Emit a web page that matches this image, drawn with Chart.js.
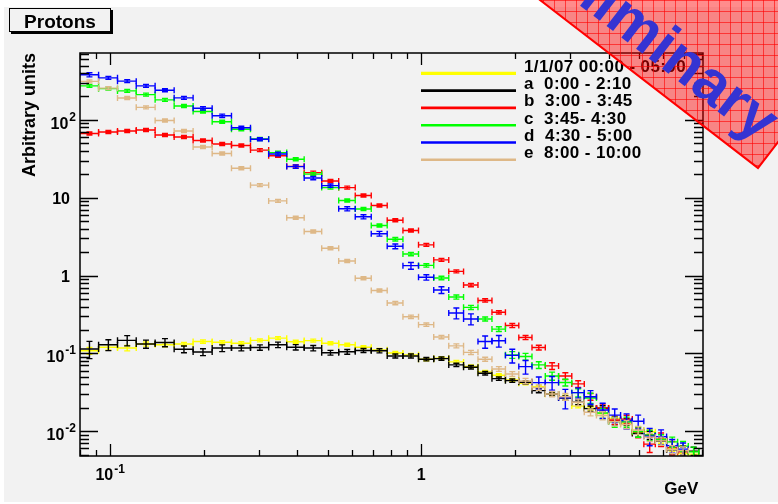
<!DOCTYPE html>
<html>
<head>
<meta charset="utf-8">
<script src="https://cdn.jsdelivr.net/npm/chart.js@4.4.1/dist/chart.umd.min.js"></script>
<style>
  html, body { margin: 0; padding: 0; background: #fff; }
  canvas { display: block; }
</style>
</head>
<body>
<canvas id="protonChart" width="778" height="504"></canvas>
<script>
// bin edges (GeV), shared by all series
const binEdges = [0.0798, 0.0918, 0.1056, 0.1213, 0.1395, 0.1606, 0.1848, 0.2128, 0.2455, 0.2826,
  0.3233, 0.3695, 0.4205, 0.4787, 0.5429, 0.6136, 0.6908, 0.7774, 0.8734, 0.9802,
  1.097, 1.226, 1.368, 1.522, 1.688, 1.865, 2.059, 2.270, 2.505, 2.764,
  3.048, 3.343, 3.659, 4.002, 4.374, 4.770, 5.195, 5.656, 6.150, 6.670,
  7.220, 7.803, 8.416];

const seriesLabels = ['1/1/07 00:00 - 05:00', 'a  0:00 - 2:10', 'b  3:00 - 3:45',
  'c  3:45- 4:30', 'd  4:30 - 5:00', 'e  8:00 - 10:00'];
const seriesColors = ['#ffff00', '#000000', '#ff0000', '#00ff00', '#0000ff', '#deb887'];

// values per bin (arbitrary units), null = no point
const valYellow = [0.108, 0.120, 0.117, 0.132, 0.129, 0.132, 0.142, 0.139, 0.135, 0.147,
  0.157, 0.141, 0.146, 0.135, 0.129, 0.120, 0.111, 0.101, 0.0957, 0.0842,
  0.0867, 0.0777, 0.0679, 0.0578, 0.0524, 0.0455, 0.0413, 0.0373, 0.0298, 0.0277,
  0.0210, 0.0197, 0.0169, 0.0146, 0.0126, 0.0103, 0.00982, 0.00752, 0.00600, 0.00517,
  0.00507, null];
const valBlack = [0.114, 0.129, 0.147, 0.132, 0.138, 0.113, 0.104, 0.117, 0.117, 0.119,
  0.129, 0.120, 0.117, 0.102, 0.105, 0.109, 0.108, 0.0927, 0.0927, 0.0842,
  0.0857, 0.0711, 0.0664, 0.0556, 0.0473, 0.0446, 0.0425, 0.0332, 0.0301, 0.0267,
  0.0235, 0.0195, 0.0197, 0.0134, 0.0133, 0.00931, 0.00891, 0.00745, 0.00575, 0.00562,
  0.00554, null];
const valRed = [67.0, 70.0, 72.1, 74.1, 64.1, 60.2, 54.4, 49.1, 46.9, 40.9,
  34.7, 25.3, 21.0, 16.4, 13.5, 10.7, 7.96, 5.13, 3.79, 2.48,
  1.59, 1.13, 0.755, 0.479, 0.337, 0.228, 0.160, 0.119, 0.0690, 0.0513,
  0.0405, 0.0277, 0.0199, 0.0139, 0.0143, 0.00968, 0.00682, 0.00791, 0.00615, 0.00543,
  null, null];
const valGreen = [274, 252, 236, 211, 181, 151, 128, 94.8, 75.9, 56.8,
  38.0, 31.2, 20.1, 13.5, 9.23, 7.17, 4.40, 2.93, 1.89, 1.35,
  0.931, 0.530, 0.390, 0.277, 0.205, 0.0957, 0.0910, 0.0711, 0.0513, 0.0423,
  0.0313, 0.0267, 0.0171, 0.0132, 0.0132, 0.00982, 0.00891, 0.00784, 0.00730, 0.00643,
  0.00543, null];
const valBlue = [380, 347, 315, 274, 241, 192, 141, 113, 79.3, 56.4,
  36.5, 25.1, 17.9, 14.3, 7.21, 5.69, 3.45, 2.38, 1.34, 0.949,
  0.652, 0.330, 0.277, 0.142, 0.145, 0.0942, 0.0676, 0.0421, 0.0421, 0.0269,
  0.0313, 0.0277, 0.0187, 0.0161, 0.0137, 0.0134, 0.00865, 0.00852, 0.00652, 0.00588,
  null, null];
const valTan = [313, 256, 191, 145, 98.3, 72.1, 44.9, 37.0, 23.9, 14.5,
  9.10, 5.53, 3.68, 2.24, 1.54, 0.925, 0.643, 0.443, 0.295, 0.234,
  0.162, 0.125, 0.103, 0.0842, 0.0631, 0.0544, 0.0442, 0.0365, 0.0301, 0.0277,
  0.0235, 0.0175, 0.0159, 0.0132, 0.0122, 0.0103, 0.00839, 0.00750, 0.00582, 0.00562,
  null, null];

// relative errors per bin
const errYellow = [0.1, 0.08, 0.08, 0.06, 0.06, 0.05, 0.05, 0.05, 0.05, 0.04,
  0.04, 0.04, 0.04, 0.04, 0.04, 0.04, 0.04, 0.04, 0.04, 0.04,
  0.04, 0.04, 0.04, 0.04, 0.04, 0.04, 0.04, 0.04, 0.05, 0.05,
  0.05, 0.05, 0.06, 0.06, 0.06, 0.06, 0.07, 0.07, 0.08, 0.08, 0.08, 0];
const errBlack = [0.25, 0.16, 0.15, 0.12, 0.12, 0.1, 0.1, 0.1, 0.08, 0.08,
  0.08, 0.08, 0.08, 0.07, 0.07, 0.06, 0.06, 0.06, 0.06, 0.05,
  0.05, 0.05, 0.05, 0.05, 0.05, 0.05, 0.05, 0.06, 0.06, 0.06,
  0.07, 0.08, 0.08, 0.1, 0.1, 0.1, 0.12, 0.12, 0.12, 0.12, 0.12, 0];
const errRed = [0.03, 0.02, 0.02, 0.02, 0.02, 0.02, 0.02, 0.02, 0.02, 0.02,
  0.02, 0.03, 0.03, 0.03, 0.03, 0.03, 0.03, 0.03, 0.04, 0.04,
  0.04, 0.04, 0.05, 0.05, 0.05, 0.06, 0.06, 0.07, 0.1, 0.1,
  0.1, 0.1, 0.12, 0.12, 0.12, 0.15, 0.22, 0.2, 0.2, 0.2, 0, 0];
const errGreen = [0.03, 0.02, 0.02, 0.02, 0.02, 0.02, 0.02, 0.02, 0.02, 0.03,
  0.03, 0.03, 0.03, 0.03, 0.04, 0.04, 0.04, 0.05, 0.05, 0.05,
  0.05, 0.06, 0.06, 0.06, 0.07, 0.1, 0.1, 0.1, 0.12, 0.1,
  0.12, 0.15, 0.15, 0.15, 0.15, 0.15, 0.15, 0.15, 0.15, 0.15, 0.15, 0];
const errBlue = [0.06, 0.04, 0.04, 0.04, 0.04, 0.04, 0.05, 0.05, 0.04, 0.04,
  0.05, 0.05, 0.05, 0.05, 0.06, 0.06, 0.07, 0.07, 0.1, 0.08,
  0.1, 0.16, 0.16, 0.18, 0.17, 0.2, 0.2, 0.18, 0.2, 0.28,
  0.15, 0.2, 0.22, 0.2, 0.22, 0.2, 0.25, 0.22, 0.2, 0.2, 0, 0];
const errTan = [0.04, 0.03, 0.03, 0.03, 0.03, 0.03, 0.03, 0.03, 0.03, 0.03,
  0.03, 0.04, 0.04, 0.04, 0.04, 0.04, 0.04, 0.05, 0.05, 0.05,
  0.05, 0.06, 0.06, 0.06, 0.07, 0.07, 0.08, 0.08, 0.08, 0.1,
  0.1, 0.1, 0.12, 0.12, 0.12, 0.12, 0.12, 0.12, 0.12, 0.12, 0, 0];

const xLabelTicks = [0.1, 1];
const yLabelTicks = [0.01, 0.1, 1, 10, 100];

const allValues = [valYellow, valBlack, valRed, valGreen, valBlue, valTan];
const allErrors = [errYellow, errBlack, errRed, errGreen, errBlue, errTan];

const BG = '#f2f2f2';
const FONT = '"Liberation Sans", Arial, Helvetica, sans-serif';

function points(vals, errs) {
  const out = [];
  vals.forEach((v, i) => {
    if (v == null) return;
    const lo = binEdges[i], hi = binEdges[i + 1];
    out.push({ x: (lo + hi) / 2, y: v, lo: lo, hi: hi, err: errs[i] });
  });
  return out;
}

const datasets = seriesLabels.map((label, k) => ({
  label: label,
  data: points(allValues[k], allErrors[k]),
  borderColor: seriesColors[k],
  backgroundColor: seriesColors[k],
  pointRadius: 0,
  pointHoverRadius: 0,
  showLine: false
}));

// split a decade value into base and exponent text, ROOT style
function labelParts(v) {
  const e = Math.round(Math.log10(v));
  if (e === 0) return ['1', ''];
  if (e === 1) return ['10', ''];
  return ['10', String(e)];
}

const background = {
  id: 'background',
  beforeDraw(chart) {
    const ctx = chart.ctx;
    ctx.save();
    ctx.fillStyle = '#ffffff';
    ctx.fillRect(0, 0, chart.width, chart.height);
    ctx.fillStyle = BG;
    ctx.fillRect(4, 7, chart.width - 4, 495);
    ctx.restore();
  }
};

// ROOT style error bars: bin width horizontally, error vertically
const errorBars = {
  id: 'errorBars',
  afterDatasetsDraw(chart) {
    const { ctx, chartArea: a, scales: { x, y } } = chart;
    ctx.save();
    ctx.beginPath();
    ctx.rect(a.left, a.top, a.right - a.left, a.bottom - a.top);
    ctx.clip();
    ctx.lineWidth = 1.4;
    chart.data.datasets.forEach(ds => {
      ctx.strokeStyle = ds.borderColor;
      ds.data.forEach(p => {
        const x0 = x.getPixelForValue(p.lo);
        const x1 = x.getPixelForValue(p.hi);
        const xc = x.getPixelForValue(p.x);
        const yc = y.getPixelForValue(p.y);
        const yt = Math.min(y.getPixelForValue(p.y * (1 + p.err)), yc - 1.5);
        const yb = Math.max(y.getPixelForValue(p.y * (1 - p.err)), yc + 1.5);
        ctx.beginPath();
        ctx.moveTo(x0, yc); ctx.lineTo(x1, yc);
        ctx.moveTo(x0, yc - 3); ctx.lineTo(x0, yc + 3);
        ctx.moveTo(x1, yc - 3); ctx.lineTo(x1, yc + 3);
        ctx.moveTo(xc, yt); ctx.lineTo(xc, yb);
        ctx.moveTo(xc - 3, yt); ctx.lineTo(xc + 3, yt);
        ctx.moveTo(xc - 3, yb); ctx.lineTo(xc + 3, yb);
        ctx.stroke();
      });
    });
    ctx.restore();
  }
};

const decorations = {
  id: 'decorations',
  afterDraw(chart) {
    const { ctx, chartArea: a, scales: { x, y } } = chart;
    ctx.save();

    // frame
    ctx.strokeStyle = '#000';
    ctx.lineWidth = 1.5;
    ctx.strokeRect(a.left, a.top, a.right - a.left, a.bottom - a.top);

    // inward ticks on all four sides
    ctx.lineWidth = 1.3;
    ctx.beginPath();
    for (let n = -3; n <= 2; n++) {
      for (let k = 1; k <= 9; k++) {
        const v = k * Math.pow(10, n);
        if (v < y.min || v > y.max) continue;
        const py = Math.round(y.getPixelForValue(v)) + 0.5;
        const len = k === 1 ? 18 : 9;
        ctx.moveTo(a.left, py); ctx.lineTo(a.left + len, py);
        ctx.moveTo(a.right, py); ctx.lineTo(a.right - len, py);
      }
    }
    for (let n = -2; n <= 0; n++) {
      for (let k = 1; k <= 9; k++) {
        const v = k * Math.pow(10, n);
        if (v < x.min || v > x.max) continue;
        const px = Math.round(x.getPixelForValue(v)) + 0.5;
        const len = k === 1 ? 12 : 6;
        ctx.moveTo(px, a.bottom); ctx.lineTo(px, a.bottom - len);
        ctx.moveTo(px, a.top); ctx.lineTo(px, a.top + len);
      }
    }
    ctx.stroke();

    // tick labels with superscript exponents
    ctx.fillStyle = '#000';
    ctx.textBaseline = 'alphabetic';
    const baseFont = 'bold 16px ' + FONT;
    const supFont = 'bold 12px ' + FONT;
    yLabelTicks.forEach(v => {
      const [b, s] = labelParts(v);
      const py = y.getPixelForValue(v);
      if (!s) {
        ctx.font = baseFont; ctx.textAlign = 'right';
        ctx.fillText(b, a.left - 10, py + 6);
        return;
      }
      ctx.font = supFont; ctx.textAlign = 'left';
      const sw = ctx.measureText(s).width;
      ctx.fillText(s, a.left - 4 - sw, py + 1);
      ctx.font = baseFont; ctx.textAlign = 'right';
      ctx.fillText(b, a.left - 5 - sw, py + 9);
    });
    xLabelTicks.forEach(v => {
      const [b, s] = labelParts(v);
      const px = x.getPixelForValue(v);
      ctx.font = baseFont;
      const bw = ctx.measureText(b).width;
      ctx.font = supFont;
      const sw = s ? ctx.measureText(s).width + 1 : 0;
      const x0 = px - (bw + sw) / 2;
      ctx.textAlign = 'left';
      ctx.font = baseFont;
      ctx.fillText(b, x0, a.bottom + 24);
      if (s) { ctx.font = supFont; ctx.fillText(s, x0 + bw + 1, a.bottom + 17); }
    });

    // legend
    ctx.font = 'bold 17px ' + FONT;
    ctx.letterSpacing = '0.4px';
    ctx.textAlign = 'left';
    seriesLabels.forEach((label, k) => {
      const ly = 73.3 + k * 17.3;
      ctx.strokeStyle = seriesColors[k];
      ctx.lineWidth = k === 0 ? 3.2 : 2.6;
      ctx.beginPath();
      ctx.moveTo(421, ly); ctx.lineTo(516, ly);
      ctx.stroke();
      ctx.fillStyle = '#000';
      ctx.fillText(label, 524, 71.7 + k * 17.3);
    });
    ctx.letterSpacing = '0px';

    // "Protons" box
    ctx.fillStyle = '#000';
    ctx.fillRect(11, 10, 102, 24);
    ctx.fillStyle = BG;
    ctx.fillRect(9, 8, 102, 24);
    ctx.strokeStyle = '#000';
    ctx.lineWidth = 1;
    ctx.strokeRect(9.5, 8.5, 101, 23);
    ctx.fillStyle = '#000';
    ctx.font = 'bold 19px ' + FONT;
    ctx.textAlign = 'center';
    ctx.fillText('Protons', 60, 28);

    // "Preliminary" stamp
    const th = Math.atan2(168, 218);
    ctx.save();
    ctx.translate(758, 168);
    ctx.rotate(th);
    ctx.beginPath();
    ctx.rect(-420, -170, 420, 170);
    ctx.fillStyle = 'rgba(255,0,0,0.45)';
    ctx.fill();
    ctx.save();
    ctx.clip();
    ctx.setTransform(1, 0, 0, 1, 0, 0);
    ctx.strokeStyle = 'rgba(255,0,0,0.6)';
    ctx.lineWidth = 1;
    ctx.beginPath();
    for (let gx = 400.5; gx < 780; gx += 11) { ctx.moveTo(gx, 0); ctx.lineTo(gx, 200); }
    for (let gy = 0.5; gy < 200; gy += 11) { ctx.moveTo(400, gy); ctx.lineTo(780, gy); }
    ctx.stroke();
    ctx.restore();
    ctx.strokeStyle = '#ff0000';
    ctx.lineWidth = 2;
    ctx.strokeRect(-420, -170, 420, 170);
    ctx.fillStyle = '#3434d2';
    ctx.font = 'bold 60px ' + FONT;
    ctx.textAlign = 'right';
    ctx.fillText('Preliminary', -14, -20);
    ctx.restore();

    ctx.restore();
  }
};

new Chart(document.getElementById('protonChart'), {
  type: 'scatter',
  data: { datasets: datasets },
  options: {
    responsive: false,
    animation: false,
    devicePixelRatio: 1,
    events: [],
    layout: { padding: { left: 0, top: 53, right: 75, bottom: 0 } },
    plugins: { legend: { display: false }, tooltip: { enabled: false } },
    scales: {
      x: {
        type: 'logarithmic',
        min: 0.08,
        max: 8.05,
        grid: { display: false, drawTicks: false },
        border: { display: false },
        ticks: { display: false },
        title: {
          display: true, text: 'GeV ', align: 'end', color: '#000',
          font: { family: FONT, size: 17, weight: 'bold' },
          padding: { top: 0, bottom: 4 }
        },
        afterBuildTicks: s => { s.ticks = xLabelTicks.map(v => ({ value: v })); },
        afterFit: s => { s.height = 48; }
      },
      y: {
        type: 'logarithmic',
        min: 0.0048,
        max: 724,
        grid: { display: false, drawTicks: false },
        border: { display: false },
        ticks: { display: false },
        title: {
          display: true, text: 'Arbitrary units', align: 'end', color: '#000',
          font: { family: FONT, size: 18, weight: 'bold' },
          padding: { top: 19, bottom: 0 }
        },
        afterBuildTicks: s => { s.ticks = yLabelTicks.map(v => ({ value: v })); },
        afterFit: s => { s.width = 80; }
      }
    }
  },
  plugins: [background, errorBars, decorations]
});
</script>
</body>
</html>
